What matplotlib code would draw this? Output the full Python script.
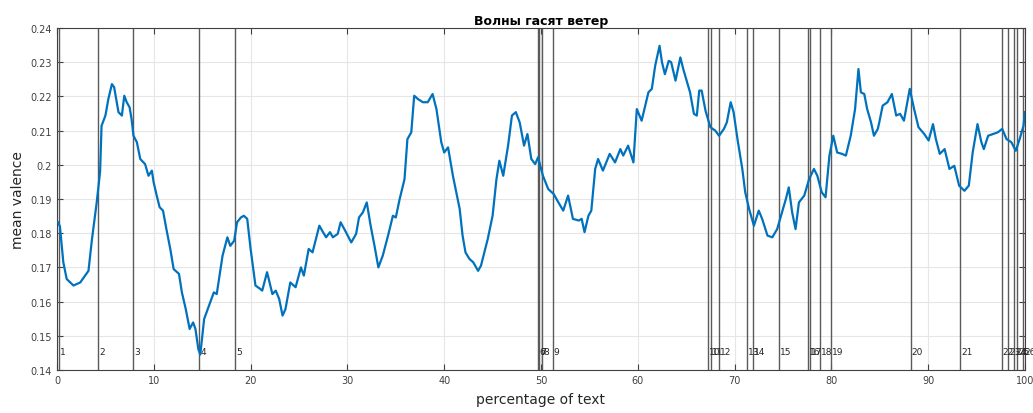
import matplotlib.pyplot as plt
import numpy as np

# valence curve
pct = [0.1, 0.3, 0.65, 1.0, 1.7, 2.4, 2.9, 3.25, 3.6, 4.1, 4.45, 4.6, 5.0, 5.3, 5.67,
       5.9, 6.35, 6.7, 6.95, 7.2, 7.5, 7.7, 7.9, 8.25, 8.6, 9.1, 9.45, 9.8, 9.98,
       10.3, 10.6, 10.95, 11.3, 11.7, 12.05, 12.6, 12.9, 13.3, 13.7, 14.06, 14.3,
       14.6, 14.8, 15.2, 15.7, 16.2, 16.5, 17.1, 17.6, 17.9, 18.3, 18.6, 19.0,
       19.3, 19.65, 20.0, 20.5, 21.0, 21.2, 21.7, 22.25, 22.6, 22.95, 23.3, 23.6,
       24.1, 24.65, 25.2, 25.5, 26.0, 26.4, 27.1, 27.4, 27.8, 28.2, 28.5, 29.0,
       29.3, 29.85, 30.4, 30.9, 31.2, 31.6, 32.0, 32.4, 32.8, 33.2, 33.65, 34.2,
       34.7, 35.0, 35.4, 35.9, 36.2, 36.6, 36.9, 37.3, 37.8, 38.3, 38.8, 39.2,
       39.7, 40.0, 40.4, 40.9, 41.6, 41.9, 42.2, 42.6, 43.0, 43.5, 43.8, 44.5,
       45.0, 45.4, 45.7, 46.1, 46.6, 47.0, 47.4, 47.8, 48.25, 48.6, 49.0, 49.4,
       49.7, 50.2, 50.75, 51.3, 51.8, 52.3, 52.8, 53.3, 53.9, 54.2, 54.5, 54.9,
       55.2, 55.6, 55.9, 56.4, 57.1, 57.65, 58.2, 58.5, 59.0, 59.55, 59.9, 60.4,
       61.1, 61.45, 61.8, 62.25, 62.5, 62.8, 63.2, 63.45, 63.9, 64.4, 64.7, 65.1,
       65.4, 65.8, 66.1, 66.35, 66.6, 67.0, 67.5, 68.0, 68.4, 68.9, 69.2, 69.6,
       69.9, 70.3, 70.8, 71.1, 71.5, 72.0, 72.5, 72.85, 73.4, 73.9, 74.4, 74.9,
       75.3, 75.6, 75.95, 76.3, 76.65, 77.2, 77.7, 78.2, 78.55, 79.0, 79.4, 79.8,
       80.2, 80.6, 81.1, 81.5, 82.0, 82.45, 82.8, 83.05, 83.4, 83.7, 84.1, 84.4,
       84.8, 84.95, 85.3, 85.8, 86.25, 86.7, 87.1, 87.5, 88.1, 88.55, 89.0, 89.6,
       90.05, 90.5, 90.8, 91.2, 91.7, 92.2, 92.7, 93.2, 93.75, 94.2, 94.6, 95.1,
       95.5, 95.75, 96.2, 96.7, 97.2, 97.65, 98.1, 98.6, 99.05, 99.45, 99.85, 100.0]
valence = [0.1832, 0.1820, 0.1715, 0.1666, 0.1647, 0.1656, 0.1676, 0.1690, 0.1780,
           0.1890, 0.1980, 0.2114, 0.2144, 0.2192, 0.2236, 0.2227, 0.2154, 0.2144,
           0.2202, 0.2183, 0.2168, 0.2134, 0.2085, 0.2066, 0.2017, 0.2002, 0.1968,
           0.1983, 0.1949, 0.1910, 0.1876, 0.1866, 0.1812, 0.1754, 0.1695, 0.1681,
           0.1627, 0.1578, 0.1520, 0.1539, 0.1520, 0.1461, 0.1445, 0.1549, 0.1588,
           0.1627, 0.1622, 0.1734, 0.1788, 0.1763, 0.1778, 0.1832, 0.1846, 0.1851,
           0.1842, 0.1754, 0.1647, 0.1637, 0.1632, 0.1686, 0.1622, 0.1632, 0.1608,
           0.1559, 0.1578, 0.1656, 0.1642, 0.1700, 0.1676, 0.1754, 0.1744, 0.1822,
           0.1807, 0.1788, 0.1803, 0.1788, 0.1798, 0.1832, 0.1803, 0.1773, 0.1798,
           0.1846, 0.1861, 0.1890, 0.1822, 0.1763, 0.1700, 0.1734, 0.1793, 0.1851,
           0.1846, 0.1900, 0.1958, 0.2075, 0.2095, 0.2202, 0.2192, 0.2183, 0.2183,
           0.2207, 0.2163, 0.2066, 0.2036, 0.2051, 0.1968, 0.1871, 0.1793, 0.1744,
           0.1725, 0.1715, 0.1690, 0.1705, 0.1783, 0.1851, 0.1958, 0.2012, 0.1968,
           0.2056, 0.2144, 0.2154, 0.2124, 0.2056, 0.2090, 0.2017, 0.2002, 0.2022,
           0.1968, 0.1929, 0.1915, 0.1890, 0.1866, 0.1910, 0.1842, 0.1837, 0.1842,
           0.1803, 0.1851, 0.1866, 0.1988, 0.2017, 0.1983, 0.2032, 0.2007, 0.2046,
           0.2027, 0.2056, 0.2007, 0.2163, 0.2129, 0.2212, 0.2222, 0.2290, 0.2348,
           0.2300, 0.2265, 0.2304, 0.2300, 0.2246, 0.2314, 0.2280, 0.2241, 0.2212,
           0.2149, 0.2144, 0.2217, 0.2217, 0.2158, 0.2110, 0.2100, 0.2085, 0.2105,
           0.2124, 0.2183, 0.2154, 0.2075, 0.1988, 0.1920, 0.1871, 0.1822, 0.1866,
           0.1842, 0.1793, 0.1788, 0.1812, 0.1861, 0.1900, 0.1934, 0.1861, 0.1812,
           0.1890, 0.1910, 0.1958, 0.1988, 0.1968, 0.1920, 0.1905, 0.2027, 0.2085,
           0.2036, 0.2032, 0.2027, 0.2085, 0.2163, 0.2280, 0.2212, 0.2207, 0.2163,
           0.2124, 0.2085, 0.2105, 0.2124, 0.2173, 0.2183, 0.2207, 0.2144, 0.2149,
           0.2129, 0.2222, 0.2163, 0.2110, 0.2090, 0.2071, 0.2119, 0.2075, 0.2032,
           0.2046, 0.1988, 0.1997, 0.1939, 0.1924, 0.1939, 0.2036, 0.2119, 0.2066,
           0.2046, 0.2085, 0.2090, 0.2095, 0.2105, 0.2075, 0.2066, 0.2041, 0.2075,
           0.2114, 0.2154]

# chapter / event markers
marker_pos = [0.2, 4.25, 7.9, 14.7, 18.4, 49.7, 49.8, 50.1, 51.2, 67.3, 67.6, 68.4,
              71.3, 71.9, 74.6, 77.6, 77.8, 78.8, 80.0, 88.2, 93.3, 97.6, 98.3,
              98.9, 99.2, 99.8]
marker_labels = [str(i) for i in range(1, len(marker_pos) + 1)]

fig = plt.figure(figsize=(10.33, 4.14), dpi=100)
ax = fig.add_axes([0.0552, 0.1039, 0.937, 0.826])

for xp, lab in zip(marker_pos, marker_labels):
    ax.axvline(xp, color='#5a5a5a', linewidth=1.0, zorder=2)
    ax.text(xp + 0.1, 0.1453, lab, fontsize=6.5, color='#262626',
            ha='left', va='center', zorder=4)

ax.plot(pct, valence, color='#0072BD', linewidth=1.6, zorder=3)

ax.set_xlim(0, 100)
ax.set_ylim(0.14, 0.24)
ax.set_xticks(np.arange(0, 101, 10))
ax.set_yticks(np.arange(0.14, 0.2401, 0.01))
ax.set_yticklabels(['0.14', '0.15', '0.16', '0.17', '0.18', '0.19', '0.2',
                    '0.21', '0.22', '0.23', '0.24'])
ax.tick_params(direction='in', top=True, right=True, labelsize=7,
               colors='#404040', length=4)
ax.grid(True, color='#e6e6e6', linewidth=0.8, zorder=0)
ax.set_axisbelow(True)
for s in ax.spines.values():
    s.set_color('#404040')
    s.set_linewidth(0.8)

ax.set_title('Волны гасят ветер', fontsize=9, fontweight='bold', pad=3)
ax.set_xlabel('percentage of text', fontsize=10, color='#262626', labelpad=5)
ax.set_ylabel('mean valence', fontsize=10, color='#262626', labelpad=4)

plt.savefig('out.png', dpi=100)
plt.close()
